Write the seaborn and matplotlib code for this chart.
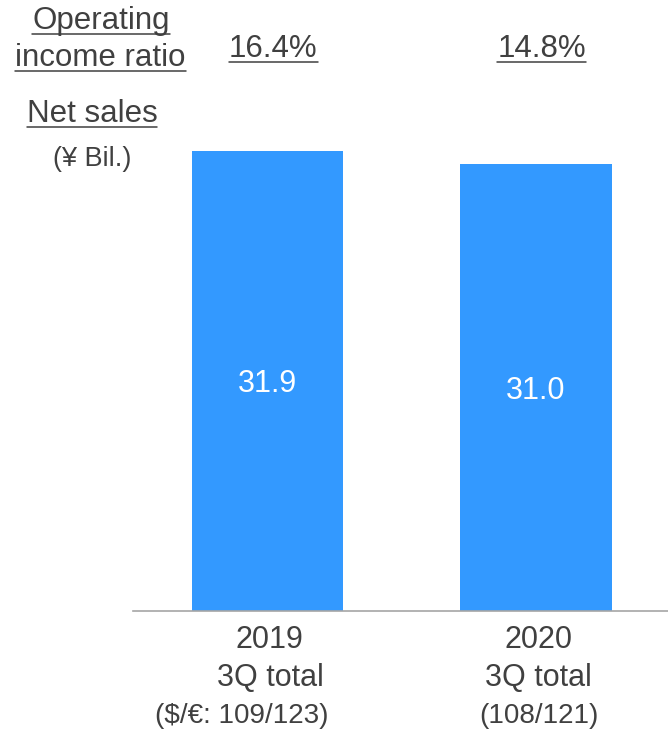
import matplotlib
matplotlib.use("Agg")
import matplotlib.pyplot as plt
import matplotlib.transforms as mtransforms
from matplotlib.lines import Line2D
import seaborn as sns
import pandas as pd

# ---- data -------------------------------------------------------------
years = ["2019", "2020"]
period_label = "3Q total"
net_sales = [31.9, 31.0]                       # ¥ Bil.
op_income_ratio = ["16.4%", "14.8%"]
fx_rates = ["($/€: 109/123)", "(108/121)"]

# ---- style ------------------------------------------------------------
W, H = 668, 729
BLUE = "#3399ff"
TEXT = "#404040"
AXIS = "#a6a6a6"

sns.set_theme(style="white")
plt.rcParams["font.family"] = ["Liberation Sans", "DejaVu Sans"]

fig = plt.figure(figsize=(W / 100, H / 100), dpi=100)
ax = fig.add_axes([133 / W, (H - 611) / H, 535 / W, 505 / H])

df = pd.DataFrame({"year": years, "sales": net_sales})
sns.barplot(data=df, x="year", y="sales", color=BLUE, saturation=1,
            width=0.565, linewidth=0, ax=ax)
ax.set_ylim(0, 35)
ax.set_xlim(-0.501, 1.493)

for side in ("top", "right", "left"):
    ax.spines[side].set_visible(False)
ax.spines["bottom"].set_color(AXIS)
ax.spines["bottom"].set_linewidth(1.2)
ax.set_yticks([])
ax.set_xticks([])
ax.set_xlabel("")
ax.set_ylabel("")

# values inside the bars
labels = ax.bar_label(ax.containers[0], fmt="%.1f", label_type="center",
                      color="white", fontsize=22)
for t in labels:
    t.set_va("center_baseline")


def fig_xy(x_px, y_px):
    """pixel position (from top-left) -> figure fraction"""
    return x_px / W, 1 - y_px / H


def at_category(i, dx_px, y_px):
    """x from the category axis plus a pixel nudge, y as pixel from top"""
    trans = mtransforms.blended_transform_factory(ax.transData, fig.transFigure)
    trans = trans + mtransforms.Affine2D().translate(dx_px, 0)
    return trans, (i, 1 - y_px / H)


underlined = []

# left-hand row titles
for txt, cx, base, size in [("Operating", 101, 29, 22.5),
                            ("income ratio", 100.5, 66, 22.5),
                            ("Net sales", 92, 122, 22.5)]:
    t = fig.text(*fig_xy(cx, base), txt, ha="center", va="baseline",
                 fontsize=size, color=TEXT)
    underlined.append((t, base))
fig.text(*fig_xy(92, 166), "(¥ Bil.)", ha="center", va="baseline",
         fontsize=19.5, color=TEXT)

# operating income ratio above each bar
for i, ratio in enumerate(op_income_ratio):
    trans, xy = at_category(i, 6, 57)
    t = ax.text(*xy, ratio, transform=trans, ha="center", va="baseline",
                fontsize=22.5, color=TEXT, clip_on=False)
    underlined.append((t, 57))

# category labels under the axis
fx_nudge = [-26, 3]
for i, (yr, fx) in enumerate(zip(years, fx_rates)):
    trans, xy = at_category(i, 2.5, 648)
    ax.text(*xy, yr, transform=trans, ha="center", va="baseline",
            fontsize=22, color=TEXT, clip_on=False)
    trans, xy = at_category(i, 2.5, 686)
    ax.text(*xy, period_label, transform=trans, ha="center", va="baseline",
            fontsize=22, color=TEXT, clip_on=False)
    trans, xy = at_category(i, fx_nudge[i], 723)
    ax.text(*xy, fx, transform=trans, ha="center", va="baseline",
            fontsize=20, color=TEXT, clip_on=False)

# underline the header texts
fig.canvas.draw()
for t, base in underlined:
    bb = t.get_window_extent()
    y = 1 - (base + 5) / H
    fig.add_artist(Line2D([bb.x0 / W, bb.x1 / W], [y, y],
                          transform=fig.transFigure, color=TEXT, lw=1.1))

fig.savefig("out.png", dpi=100)
